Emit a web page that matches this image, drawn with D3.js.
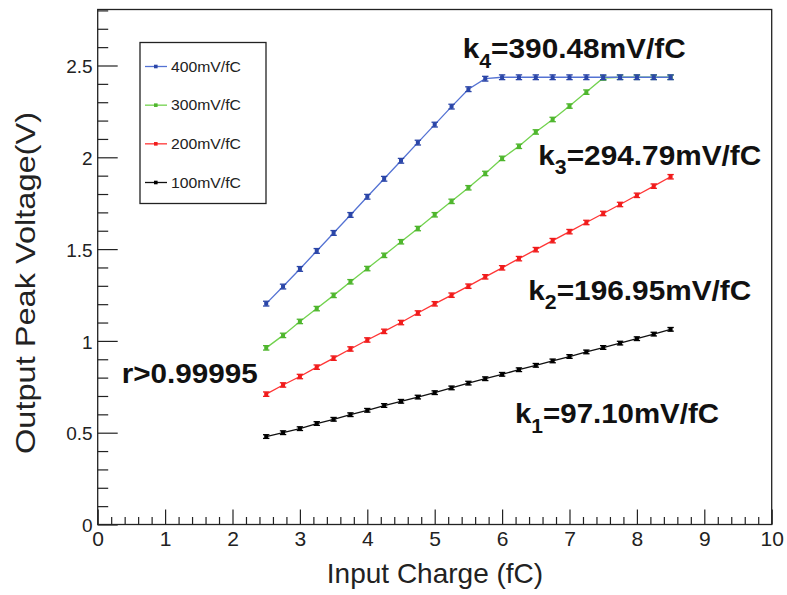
<!DOCTYPE html>
<html>
<head>
<meta charset="utf-8">
<script src="https://cdn.jsdelivr.net/npm/d3@7"></script>
<style>
  html, body { margin: 0; padding: 0; background: #fff; }
  svg { display: block; font-family: "Liberation Sans", Arial, Helvetica, sans-serif; }
</style>
</head>
<body>
<svg id="chart" width="787" height="595"></svg>
<script>
// Input charge steps (fC)
const charge = [2.5, 2.75, 3.0, 3.25, 3.5, 3.75, 4.0, 4.25, 4.5, 4.75, 5.0, 5.25, 5.5,
                5.75, 6.0, 6.25, 6.5, 6.75, 7.0, 7.25, 7.5, 7.75, 8.0, 8.25, 8.5];

// Output peak voltage (V) for each gain setting
const gain400 = [1.203, 1.296, 1.392, 1.490, 1.588, 1.686, 1.785, 1.883, 1.981, 2.080, 2.178, 2.276, 2.371,
                 2.428, 2.436, 2.436, 2.436, 2.436, 2.436, 2.436, 2.436, 2.436, 2.436, 2.436, 2.436];
const gain300 = [0.962, 1.030, 1.106, 1.176, 1.248, 1.322, 1.394, 1.466, 1.540, 1.612, 1.687, 1.760, 1.834,
                 1.912, 1.994, 2.060, 2.138, 2.206, 2.279, 2.355, 2.432, 2.436, 2.436, 2.436, 2.436];
const gain200 = [0.710, 0.760, 0.806, 0.857, 0.906, 0.956, 1.005, 1.052, 1.100, 1.152, 1.202, 1.249, 1.298,
                 1.349, 1.398, 1.448, 1.497, 1.546, 1.595, 1.645, 1.694, 1.743, 1.793, 1.843, 1.894];
const gain100 = [0.479, 0.500, 0.522, 0.550, 0.573, 0.598, 0.622, 0.648, 0.671, 0.694, 0.718, 0.744, 0.770,
                 0.794, 0.818, 0.843, 0.867, 0.891, 0.915, 0.940, 0.964, 0.988, 1.012, 1.037, 1.063];

// Measurement uncertainty (V), one per series
const seriesNames = ["400mV/fC", "300mV/fC", "200mV/fC", "100mV/fC"];
const seriesErr = [0.013, 0.012, 0.012, 0.010];

// Axis ticks
const xMajorTicks = [0, 1, 2, 3, 4, 5, 6, 7, 8, 9, 10];
const yMajorTicks = [0, 0.5, 1, 1.5, 2, 2.5];
const xRange = [0, 10];
const yRange = [0, 2.805];

// Fit annotations
const slopeLabels = [
  { k: "4", text: "=390.48mV/fC" },
  { k: "3", text: "=294.79mV/fC" },
  { k: "2", text: "=196.95mV/fC" },
  { k: "1", text: "=97.10mV/fC" }
];
const corrLabel = "r>0.99995";

// ---- layout ----
const frame = { left: 97.7, right: 771.7, top: 9.5, bottom: 524.5 };
const colors = {
  "400mV/fC": { line: "#5472d3", mark: "#2b46a8" },
  "300mV/fC": { line: "#72d24e", mark: "#4fb62e" },
  "200mV/fC": { line: "#ff3535", mark: "#f01c1c" },
  "100mV/fC": { line: "#111111", mark: "#000000" }
};

const svg = d3.select("#chart");
const x = d3.scaleLinear().domain(xRange).range([frame.left, frame.right]);
const y = d3.scaleLinear().domain(yRange).range([frame.bottom, frame.top]);

const fmt = d3.format("~g");

// X axis: major and minor ticks pointing inward
const xMinor = d3.range(0, 10.001, 0.2).filter(v => Math.abs(v - Math.round(v)) > 1e-6);
const gx = svg.append("g").attr("transform", `translate(0,${frame.bottom})`);
gx.call(d3.axisBottom(x).tickValues(xMajorTicks).tickSize(-15).tickPadding(7).tickFormat(fmt));
gx.append("g").call(d3.axisBottom(x).tickValues(xMinor).tickSize(-7.5).tickFormat(""));
gx.selectAll(".domain").remove();
gx.selectAll("line").attr("stroke", "#222").attr("stroke-width", 1.2);
gx.selectAll("text").attr("font-size", 21).attr("fill", "#222")
  .attr("font-family", "'Liberation Sans', Arial, sans-serif");

// Y axis
const yMinor = d3.range(0, 2.801, 0.1).filter(v => Math.abs(v * 2 - Math.round(v * 2)) > 1e-6);
const gy = svg.append("g").attr("transform", `translate(${frame.left},0)`);
gy.call(d3.axisLeft(y).tickValues(yMajorTicks).tickSize(-20).tickPadding(5).tickFormat(fmt));
gy.append("g").call(d3.axisLeft(y).tickValues(yMinor).tickSize(-10.5).tickFormat(""));
gy.selectAll(".domain").remove();
gy.selectAll("line").attr("stroke", "#222").attr("stroke-width", 1.2);
gy.selectAll("text").attr("font-size", 19).attr("fill", "#222").attr("dy", "0.38em")
  .attr("font-family", "'Liberation Sans', Arial, sans-serif");

// Plot frame
svg.append("rect")
  .attr("x", frame.left).attr("y", frame.top)
  .attr("width", frame.right - frame.left).attr("height", frame.bottom - frame.top)
  .attr("fill", "none").attr("stroke", "#222").attr("stroke-width", 1.3);

// Axis titles
svg.append("text")
  .attr("x", 435).attr("y", 583)
  .attr("text-anchor", "middle").attr("font-size", 28).attr("fill", "#222")
  .text("Input Charge (fC)");
svg.append("text")
  .attr("transform", "translate(35,283) rotate(-90)")
  .attr("text-anchor", "middle").attr("font-size", 28).attr("fill", "#222")
  .attr("textLength", 342).attr("lengthAdjust", "spacingAndGlyphs")
  .text("Output Peak Voltage(V)");

// Data series: lines, error bars, markers (blue drawn last)
const seriesData = {
  "400mV/fC": gain400,
  "300mV/fC": gain300,
  "200mV/fC": gain200,
  "100mV/fC": gain100
};
const drawOrder = ["100mV/fC", "200mV/fC", "300mV/fC", "400mV/fC"];
const line = d3.line().x(d => x(d[0])).y(d => y(d[1]));

drawOrder.forEach(name => {
  const vals = seriesData[name];
  const err = seriesErr[seriesNames.indexOf(name)];
  const pts = charge.map((c, i) => [c, vals[i]]);
  const c = colors[name];
  const g = svg.append("g");
  g.append("path").datum(pts).attr("d", line)
    .attr("fill", "none").attr("stroke", c.line).attr("stroke-width", 1.3);
  const pt = g.selectAll("g.pt").data(pts).join("g").attr("class", "pt");
  pt.append("line")
    .attr("x1", d => x(d[0])).attr("x2", d => x(d[0]))
    .attr("y1", d => y(d[1] - err)).attr("y2", d => y(d[1] + err))
    .attr("stroke", c.mark).attr("stroke-width", 1.3);
  [-1, 1].forEach(s => {
    pt.append("line")
      .attr("x1", d => x(d[0]) - 3.2).attr("x2", d => x(d[0]) + 3.2)
      .attr("y1", d => y(d[1] + s * err)).attr("y2", d => y(d[1] + s * err))
      .attr("stroke", c.mark).attr("stroke-width", 1.3);
  });
  pt.append("rect")
    .attr("x", d => x(d[0]) - 2).attr("y", d => y(d[1]) - 2)
    .attr("width", 4).attr("height", 4).attr("fill", c.mark);
});

// Legend
const legend = svg.append("g");
legend.append("rect")
  .attr("x", 140).attr("y", 42.5).attr("width", 126).attr("height", 161)
  .attr("fill", "#fff").attr("stroke", "#222").attr("stroke-width", 1.3);
const legendY = d3.scalePoint().domain(seriesNames).range([66.5, 182.5]);
seriesNames.forEach(name => {
  const ly = legendY(name);
  const c = colors[name];
  legend.append("line").attr("x1", 145).attr("x2", 167).attr("y1", ly).attr("y2", ly)
    .attr("stroke", c.line).attr("stroke-width", 1.3);
  legend.append("rect").attr("x", 154).attr("y", ly - 1.8).attr("width", 3.6).attr("height", 3.6)
    .attr("fill", c.mark);
  legend.append("text").attr("x", 171).attr("y", ly + 5.2)
    .attr("font-size", 14.5).attr("fill", "#222")
    .attr("textLength", 70).attr("lengthAdjust", "spacingAndGlyphs")
    .text(name);
});

// Slope annotations
const slopePos = [
  { x: 462.7, y: 58.3, w: 223 },
  { x: 538.3, y: 165.0, w: 223 },
  { x: 528.3, y: 300.0, w: 223 },
  { x: 515.0, y: 423.3, w: 204 }
];
slopeLabels.forEach((lab, i) => {
  const p = slopePos[i];
  const t = svg.append("text")
    .attr("x", p.x).attr("y", p.y)
    .attr("font-size", 28).attr("font-weight", "bold").attr("fill", "#111")
    .attr("textLength", p.w).attr("lengthAdjust", "spacingAndGlyphs");
  t.append("tspan").text("k");
  t.append("tspan").attr("dy", 9.4).attr("font-size", 20).text(lab.k);
  t.append("tspan").attr("dy", -9.4).text(lab.text);
});

svg.append("text")
  .attr("x", 121.7).attr("y", 383.3)
  .attr("font-size", 28).attr("font-weight", "bold").attr("fill", "#111")
  .attr("textLength", 136).attr("lengthAdjust", "spacingAndGlyphs")
  .text(corrLabel);
</script>
</body>
</html>
